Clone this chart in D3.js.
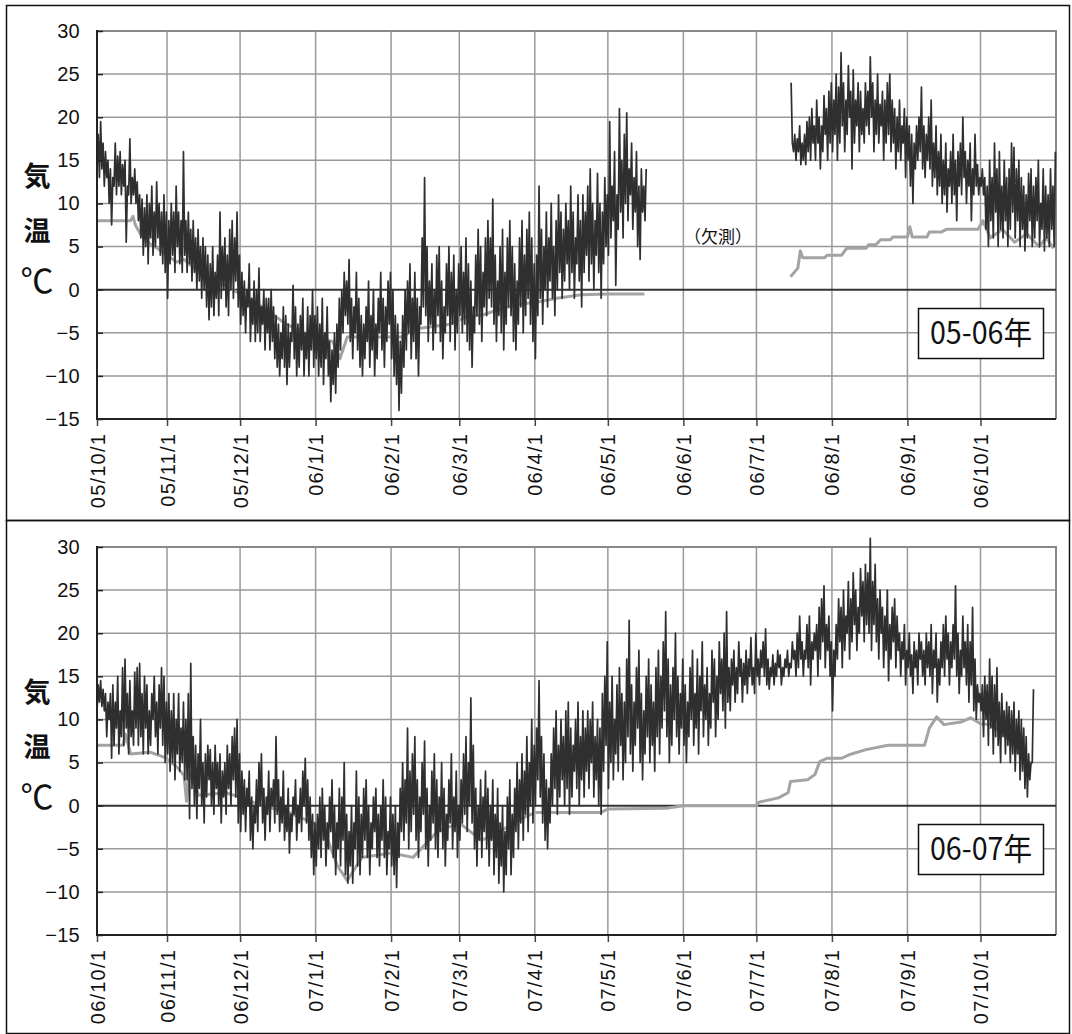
<!DOCTYPE html>
<html>
<head>
<meta charset="utf-8">
<script src="https://cdn.jsdelivr.net/npm/d3@7"></script>
<style>
  body { margin: 0; background: #fff; }
  svg { display: block; }
</style>
</head>
<body>
<svg id="chart" width="1072" height="1034"></svg>
<script>
// ---- data ----
const yTicks = [-15, -10, -5, 0, 5, 10, 15, 20, 25, 30];
const tickLabels1 = ['05/10/1','05/11/1','05/12/1','06/1/1','06/2/1','06/3/1','06/4/1','06/5/1','06/6/1','06/7/1','06/8/1','06/9/1','06/10/1'];
const tickLabels2 = ['06/10/1','06/11/1','06/12/1','07/1/1','07/2/1','07/3/1','07/4/1','07/5/1','07/6/1','07/7/1','07/8/1','07/9/1','07/10/1'];
const panelTitles = ['05-06年', '06-07年'];

// air temperature, one value every 12 hours
const air1aStart = '2005-10-03 06';
const air1a = [
  14,18, 13,19.5, 14,17, 12,16, 13,15, 10,14, 7.5,13, 12,17, 11,15.5, 12,16,
  11,14.5, 12,15, 5.5,12, 11,17.5, 10,13, 11,14, 10,12.5, 8,11, 6,10.5, 4,9.5,
  5,11, 3,10, 6,12, 4,9, 5,12.5, 6,10, 4,9, 3,11, 2,9, -1,8,
  3,10, 4,9, 2,12, 5,9, 3,8, 2,16, 4,8, 2,9, 3,7, 1,8,
  2,6, 0,7, 1,5, -1,6, 0,5, -2,4, -3.5,3, -2,5, -3,2, -1,4,
  -3,9, -1,5, 0,6, -2,4, -3,7, 0,8, -1,6, 1,9, -2,4, -4,2,
  -3,1, -5,0, -2,3, -6,-1, -4,1, -6,0, -5,2.5, -6,-2, -4,0, -7,-1,
  -5,-1, -7,0, -6,-2, -8,-3, -9,-4, -10,-5, -8,-2, -9,-3, -11,-4, -9,-5,
  -6,0.5, -8,-2, -10,-4, -9,-3, -7,-1, -10,-5, -8,-2, -10,-3, -7,0, -9,-3,
  -8,-2, -10,-4, -9,-1, -11,-5, -8,-2, -10,-6, -13,-7, -11,-5, -12,-4, -9,-1,
  -7,0, -5,2, -3,1, -4,3.5, -6,-1, -8,-2, -5,2, -7,-1, -9,-3, -10,-4,
  -8,-2, -6,1, -9,-3, -7,0, -10,-4, -8,-1, -5,2, -7,-1, -9,-2, -6,1,
  -4,2, -8,0, -10,-3, -11,-4, -14,-6, -12,-3, -9,0, -7,1, -5,3, -8,-1,
  -6,2, -8,-1, -10,-2, -4,6, -2,13, -3,5, -6,1, -4,3, -7,0, -5,4,
  -3,5, -6,1, -8,-2, -5,3, -3,5, -6,2, -4,4, -7,0, -5,3, -3,5,
  -5,2, -4,6, -6,3, -7,1, -9,-2, -5,4, -3,7, -4,5, -6,2, -2,6,
  -3,8, -1,6, -2,10.5, -4,4, -6,1, -3,5, -5,7, -7,2, -4,6, -2,8,
  -3,5, -6,3, -7,1, -4,6, -2,8, -5,4, -3,7, -1,9, -4,6, -6,3,
  -8,4, -3,12, -1,7, -4,5, 0,9, -2,6, 1,10, -1,5, -3,8, 0,11,
  2,9, -1,7, 1,10, 3,8, 0,12, 2,9, -1,6, 3,11, 1,8, -2,11,
  2,9, 4,12, 1,14, 3,10, 0,8, 4,13.5, 2,10, -1,9, 3,13, 5,11,
  4,19.5, 6,12, 8,16, 0.5,11, 7,21, 9,15, 6,18, 10,20.5, 8,14, 11,17,
  7,13, 9,16, 5,12, 3.5,14, 9,12, 8,14
];
const air1bStart = '2006-07-15 06';
const air1b = [
  24,17, 16,18, 15,17.5, 16,19, 14.5,17, 15,18, 14.5,19.5, 16,20, 15,21, 17,19,
  15,22, 17,20, 14,19, 16,22.5, 18,21, 15,23, 17,24, 16,22, 18,25, 15,23.5,
  17,27.5, 19,24, 16,22, 18,26, 20,23, 14,25.5, 17,22, 19,24, 16,23, 18,21,
  17,24, 19,23, 18,27, 20,24, 16,22, 18,25, 17,21.5, 19,23, 15,22, 17,24,
  18,25, 16,22, 17,21, 14,20, 16,22, 15,19, 17,21, 13,20, 15,19, 12,18,
  10,17, 14,19, 15,20, 16,23.5, 14,19, 13,18, 15,20, 14,22, 12,17, 13,19,
  11,16, 12,18, 10,15, 11,17, 9,14, 12,16, 10,18, 11,15, 8,16, 12,17,
  11,20, 13,16, 10,15, 12,17, 8,14, 11,18, 12,14.5, 11,13, 12,14, 11,13,
  7,12, 5,15, 8,13, 6,17, 9,14, 5,16, 7,12, 6,15, 8,13, 5,14,
  7,17, 9,16.5, 6,14, 8,15, 5,13, 7,12, 4.5,11, 6,13.5, 8,14, 5,12,
  6,13, 8,15, 5,10, 7,14, 4.5,12, 6,11, 5,14, 7,12, 5,16
];
const air2Start = '2006-10-03 06';
const air2 = [
  11,14, 12,14.5, 11.5,13.5, 11,13, 8,12, 10,13, 5.5,14, 7,12, 9,15, 6,11,
  8,16, 7,17, 9,13, 6,14.5, 8,11, 7,15.5, 9,16, 7,16.5, 8,13, 6,15,
  9,14, 6,11, 7,13, 10,15, 8,12, 6,14, 9,16, 7,15, 5,12, 6,13,
  4,11, 5,13, 3,10, 6,13, 4,9, 5,12, 3,10, 3,13, -1.5,16.5, 2,8,
  0,7, -1.5,6, 2,10, 0,5, -2,6, 1,7, 3,6.5, 0,5, -1,7, 2,5,
  0,6, -2,4, 1,5, -1,7, 2,6, 0,8, 3,9, 1,10, -2,6, -3,4,
  -1,3, -3,2, 0,4, -4,1, -5,0, -2,3, -3,5, 0,6, -2,2, -4,1,
  -1,4, -3,2, 0,3, -2,8, -1,3, -3,1, -2,4, -4,0, -3,2, -5.5,-1,
  -3,1, -1,3, -4,0, -2,2, -3,4, 0,5.5, -2,3, -4,1, -6,-1, -8,-2,
  -7,-1, -5,1, -6,2, -4,0, -7,-2, -5,1, -3,3, -6,0, -8,-2, -5,2,
  -7,1, -4,5, -8,-1, -9,-3, -7,0, -9,-2, -5,4, -7,1, -8,-1, -6,2,
  -4,3, -6,0, -8,-2, -5,1, -3,2, -6,-1, -7,0, -4,3, -6,1, -8,-3,
  -5,1, -7,-1, -8,0, -9.5,-2, -6,2, -3,5, -4,3, -2,9, -5,4, -3,6,
  -1,8, -4,3, -6,1, -3,5, -1,7.5, -5,2, -7,0, -4,4, -2,6, -5,3,
  -6,1, -3,5, -5,2, -7,-1, -4,3, -2,6, -5,1, -3,4, -6,0, -4,3,
  -2,6, -1,8, -3,5, 0,12.5, -2,7, -5,2, -7,0, -4,3, -6,1, -3,4,
  -5,2, -7,0, -4,3, -8,-1, -6,2, -9,-2, -7,0, -10,-3, -8,1, -5,3,
  -8,-1, -6,2, -3,5, -5,3, -2,6, -4,4, -1,8, -3,5, 0,10, -2,7,
  0,9, 3,14.5, 1,8, -2,6, -4,3, -5,2, -2,6, 0,9, 2,11, -1,7,
  1,10, 3,8, 0,11, 2,12, -1,9, 1,7, 4,10, 2,12, 0,8, 3,11,
  1,9, 4,11, 2,10, 5,12, 1,8, 3,10, 0,9, -1,13, 4,15, 7,19,
  2,12, 5,15, 3,10, 6,14, 4,16, 7,13, 3,12, 5,17, 8,21.5, 6,14,
  4,12, 7,16, 9,18, 5,13, 3,11, 6,15, 8,17, 5,14, 7,12, 4,16,
  8,18, 6,15, 9,19, 11,22.5, 8,17, 5,14, 7,16, 10,20, 8,15, 6,13,
  9,17, 7,14, 5,12, 8,16, 10,18, 7,13, 9,17, 6,15, 11,19, 8,14,
  10,16, 7,13, 9,18, 12,17, 8,15, 10,19, 13,17, 11,20, 9,22.5, 12,16,
  11,17, 14,18, 12,16, 13,19, 15,17, 12,16.5, 14,18, 13,17, 15,19.5, 14,16,
  13,20, 15,17, 14,18, 16,19, 15,20.5, 14,17, 13.5,16, 15,17.5, 14,16.5, 15,18,
  16,17.5, 14,16, 15,17, 16,18, 15,16.5, 16,19, 17,18, 15,20, 16,22, 17,19,
  15,18, 17,21, 16,22, 14,19, 17,20, 18,21, 15,23, 17,24, 19,25.5, 16,21,
  18,22, 15,19, 11,18, 15,21, 17,24, 19,23, 16,25, 18,22, 20,26, 17,24,
  19,27, 21,25, 18,23, 20,27.5, 22,26, 19,28, 21,27, 20,31, 18,26, 21,28,
  19,24, 17,25, 20,23, 16,22, 18,25, 14.5,21, 17,23, 19,24, 16,22, 18,20,
  15,19, 17,21, 14,18, 16,20, 15,17.5, 13,19, 16,18, 14,20, 17,19, 15,18,
  14,20, 16,19, 15,21, 13,18, 16,20, 12,17, 14,19, 16,21, 15,22, 17,20,
  14,19, 16,21, 17,25.5, 15,20, 13,18, 15,22, 16,19, 14,21, 12,19, 14,23,
  11,17, 10,14, 12,13, 11,14, 8,15, 10,14, 7,17, 9,15, 6,14, 8,16,
  7,12, 5,13, 8,11, 6,12, 7,11.5, 5,11, 6,12, 4,10, 6,11, 3,10,
  4,9, 2,8, 1,6, 3,5, 5,13.5
];

// the lighter series, as dated turning points
const ground1aDates = ['2005-10-03','2005-10-17','2005-10-18','2005-10-19','2005-10-21','2005-10-25','2005-10-28','2005-11-01','2005-11-05','2005-11-08',
  '2005-11-12','2005-11-16','2005-11-20','2005-11-25','2005-11-28','2005-12-01','2005-12-10','2005-12-20','2005-12-31','2006-01-08',
  '2006-01-11','2006-01-14','2006-01-25','2006-02-05','2006-02-12','2006-02-25','2006-03-05','2006-03-10','2006-03-15','2006-03-25',
  '2006-04-01','2006-04-10','2006-04-20','2006-05-01','2006-05-16'];
const ground1a = [8,8,8.5,7.5,6.5,5.3,4.8,4,3.2,3.5, 2.5,1.5,1,0.5,0,-0.5,-2,-4,-5.5,-6, -8,-5.5,-5.5,-5.5,-4.5,-4,-3,-3,-2.5,-1.7, -1.5,-1,-0.6,-0.5,-0.5];
const ground1bDates = ['2006-07-15','2006-07-18','2006-07-19','2006-07-20','2006-07-29','2006-07-30','2006-08-05','2006-08-07','2006-08-15','2006-08-16',
  '2006-08-19','2006-08-21','2006-08-25','2006-08-26','2006-09-01','2006-09-02','2006-09-03','2006-09-09','2006-09-10','2006-09-15',
  '2006-09-17','2006-09-30','2006-10-02','2006-10-05','2006-10-10','2006-10-15','2006-10-20','2006-10-25','2006-10-28','2006-10-31'];
const ground1b = [1.5,2.5,4.5,3.7,3.7,4,4,4.8,4.8,5.2, 5.2,5.8,5.8,6.1,6.1,7.3,6.1,6.1,6.7,6.7, 7,7,8,6,7,5.5,6.5,5,6,4.8];
const ground2Dates = ['2006-10-03','2006-10-14','2006-10-15','2006-10-17','2006-10-25','2006-10-31','2006-11-05','2006-11-08','2006-11-09','2006-11-10',
  '2006-11-14','2006-11-25','2006-12-01','2006-12-10','2006-12-20','2006-12-31','2007-01-05','2007-01-10','2007-01-14','2007-01-20',
  '2007-02-01','2007-02-10','2007-02-20','2007-03-01','2007-03-10','2007-03-15','2007-03-25','2007-04-01','2007-04-28','2007-05-01',
  '2007-05-25','2007-06-01','2007-07-01','2007-07-02','2007-07-10','2007-07-14','2007-07-15','2007-07-22','2007-07-25','2007-07-27',
  '2007-07-30','2007-08-05','2007-08-08','2007-08-15','2007-08-24','2007-09-08','2007-09-10','2007-09-13','2007-09-16','2007-09-23',
  '2007-09-27','2007-10-01','2007-10-05','2007-10-10','2007-10-15','2007-10-20','2007-10-22'];
const ground2 = [7,7,8.3,6,6.2,5.6,4.5,3.5,0.5,3.9, 1.2,1.5,1,0,-0.7,-2,-3.2,-7,-8.7,-6, -5.5,-6,-3,-2,-4,-3.5,-1.7,-0.8,-0.8,-0.4,
  -0.3,0,0,0.4,0.9,1.5,2.8,3,3.6,5.1, 5.5,5.5,5.9,6.5,7,7,9,10.3,9.4,9.7, 10.2,9.5,9.4,8.5,7,4.7,5];

// ---- helpers ----
const parseDay = d3.timeParse('%Y-%m-%d');
const parseHour = d3.timeParse('%Y-%m-%d %H');

function halfDaySeries(start, values) {
  const t0 = parseHour(start);
  return values.map((v, i) => ({ date: d3.timeHour.offset(t0, i * 12), value: v }));
}
function datedSeries(dates, values) {
  return dates.map((d, i) => ({ date: parseDay(d), value: values[i] }));
}

const svg = d3.select('#chart');
const plotLeft = 97, plotRight = 1056, plotH = 388;

function drawPanel(p) {
  const x = d3.scaleTime().domain([parseHour(p.start), parseDay(p.end)]).range([plotLeft, plotRight]);
  const y = d3.scaleLinear().domain([-15, 30]).range([p.top + plotH, p.top]);

  // outer frame
  svg.append('rect')
    .attr('x', 6.5).attr('y', p.frameTop)
    .attr('width', 1063).attr('height', p.frameH)
    .attr('fill', 'none').attr('stroke', '#111').attr('stroke-width', 1.5);

  const tickDates = [parseHour(p.start)].concat(
    d3.timeMonth.range(d3.timeMonth.ceil(parseHour(p.start)), parseDay(p.end)));

  const grid = svg.append('g');
  grid.selectAll('line.h').data(yTicks.filter(v => v > -15 && v !== 0)).join('line')
    .attr('x1', plotLeft).attr('x2', plotRight)
    .attr('y1', d => y(d)).attr('y2', d => y(d))
    .attr('stroke', d => d === 30 ? '#888' : '#999')
    .attr('stroke-width', d => d === 30 ? 2 : 1.5);
  grid.selectAll('line.v').data(tickDates.slice(1)).join('line')
    .attr('x1', d => x(d)).attr('x2', d => x(d))
    .attr('y1', y(30)).attr('y2', y(-15))
    .attr('stroke', '#999').attr('stroke-width', 1.5);
  grid.append('line')
    .attr('x1', plotRight).attr('x2', plotRight)
    .attr('y1', y(30) - 1).attr('y2', y(-15))
    .attr('stroke', '#888').attr('stroke-width', 2);

  // zero line
  svg.append('line')
    .attr('x1', plotLeft).attr('x2', plotRight)
    .attr('y1', y(0)).attr('y2', y(0))
    .attr('stroke', '#333').attr('stroke-width', 2);

  const line = d3.line().x(d => x(d.date)).y(d => y(d.value));

  p.ground.forEach(s => {
    svg.append('path').datum(s)
      .attr('d', line).attr('fill', 'none')
      .attr('stroke', '#a3a3a3').attr('stroke-width', 3)
      .attr('stroke-linejoin', 'round');
  });
  p.air.forEach(s => {
    svg.append('path').datum(s)
      .attr('d', line).attr('fill', 'none')
      .attr('stroke', '#2f2f2f').attr('stroke-width', 1.7)
      .attr('stroke-linejoin', 'round');
  });

  // axes
  const yAxis = svg.append('g')
    .attr('transform', `translate(${plotLeft},0)`)
    .call(d3.axisLeft(y).tickValues(yTicks).tickSize(-6).tickPadding(17));
  yAxis.select('.domain').remove();
  yAxis.selectAll('line').attr('stroke', '#222').attr('stroke-width', 1.5);
  yAxis.selectAll('text')
    .style('font-family', '"Liberation Sans", Arial, sans-serif')
    .style('font-size', '20px').style('letter-spacing', '0.3px').attr('fill', '#111');

  const xAxis = svg.append('g')
    .attr('transform', `translate(0,${y(-15)})`)
    .call(d3.axisBottom(x).tickValues(tickDates).tickSize(7).tickFormat((d, i) => p.labels[i]));
  xAxis.select('.domain').remove();
  xAxis.selectAll('line').attr('stroke', '#444').attr('stroke-width', 1.5);
  xAxis.selectAll('text')
    .attr('transform', 'rotate(-90)')
    .attr('x', -14).attr('y', 0).attr('dy', '0.35em')
    .style('text-anchor', 'end')
    .style('font-family', '"Liberation Sans", Arial, sans-serif')
    .style('font-size', '20px').style('letter-spacing', '1.2px').attr('fill', '#111');

  // left and bottom axis lines
  svg.append('line')
    .attr('x1', plotLeft).attr('x2', plotLeft).attr('y1', y(30) - 1).attr('y2', y(-15) + 1)
    .attr('stroke', '#222').attr('stroke-width', 2);
  svg.append('line')
    .attr('x1', plotLeft).attr('x2', plotRight).attr('y1', y(-15)).attr('y2', y(-15))
    .attr('stroke', '#222').attr('stroke-width', 2);

  // y label, stacked vertically
  const cjk = '"Noto Sans CJK JP", "Noto Sans", sans-serif';
  [['気', 177, 700, 27], ['温', 232, 700, 27], ['℃', 281, 400, 33]].forEach(([t, cy, w, fs]) => {
    svg.append('text')
      .attr('x', 37).attr('y', p.top - 31 + cy)
      .attr('dy', '0.35em').attr('text-anchor', 'middle')
      .style('font-family', cjk).style('font-size', fs + 'px').style('font-weight', w)
      .attr('fill', '#111').text(t);
  });

  // year box
  svg.append('rect')
    .attr('x', 918.5).attr('y', p.top + 277.5).attr('width', 125).attr('height', 50)
    .attr('fill', '#fff').attr('stroke', '#111').attr('stroke-width', 1.5);
  svg.append('text')
    .attr('x', 981).attr('y', p.top + 313)
    .attr('text-anchor', 'middle')
    .attr('textLength', 102).attr('lengthAdjust', 'spacingAndGlyphs')
    .style('font-family', cjk).style('font-size', '31px')
    .attr('fill', '#111').text(p.title);

  if (p.note) {
    svg.append('text')
      .attr('x', 718).attr('y', p.top + 212)
      .attr('text-anchor', 'middle')
      .style('font-family', cjk).style('font-size', '17px')
      .attr('fill', '#111').text(p.note);
  }
}

drawPanel({
  top: 31, frameTop: 5.5, frameH: 515,
  start: '2005-10-03 06', end: '2006-11-01',
  labels: tickLabels1, title: panelTitles[0], note: '（欠測）',
  air: [halfDaySeries(air1aStart, air1a), halfDaySeries(air1bStart, air1b)],
  ground: [datedSeries(ground1aDates, ground1a), datedSeries(ground1bDates, ground1b)]
});
drawPanel({
  top: 547, frameTop: 520.5, frameH: 513,
  start: '2006-10-03 06', end: '2007-11-01',
  labels: tickLabels2, title: panelTitles[1], note: null,
  air: [halfDaySeries(air2Start, air2)],
  ground: [datedSeries(ground2Dates, ground2)]
});
</script>
</body>
</html>
